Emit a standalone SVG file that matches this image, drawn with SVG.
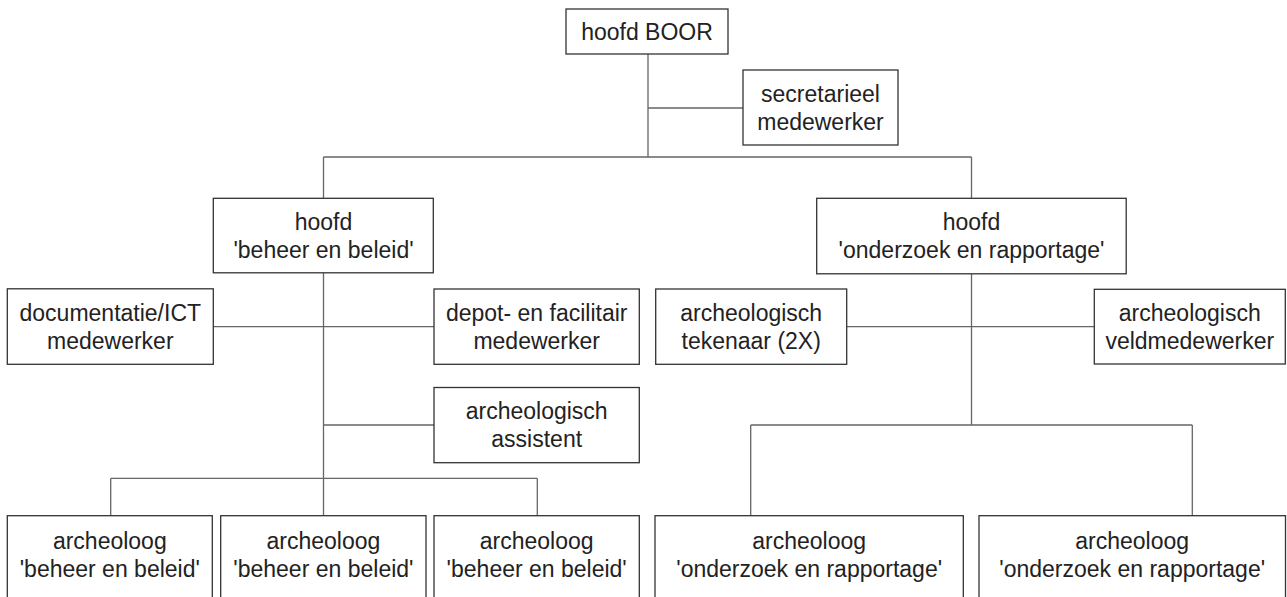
<svg xmlns="http://www.w3.org/2000/svg" width="1287" height="597" viewBox="0 0 1287 597">
<style>
.box{fill:#fff;stroke:#333;stroke-width:1.3}
.ln{stroke:#666;stroke-width:1.3;fill:none}
text{font-family:"Liberation Sans",Arial,sans-serif;font-size:23px;fill:#222;text-anchor:middle}
</style>
<rect width="1287" height="597" fill="#fff"/>
<g id="connectors">
<path class="ln" d="M648,54V157M648,108H743M323.5,157H971.5M323.5,157V198M971.5,157V198"/>
<path class="ln" d="M323.5,273V516M213,326.7H434M323.5,425H434M110.7,478.3H537.3M110.7,478.3V516M537.3,478.3V516"/>
<path class="ln" d="M971.5,274V425M846.7,326.7H1094.3M750.7,425H1192.3M750.7,425V516M1192.3,425V516"/>
</g>
<g id="hoofd-boor"><rect class="box" x="566" y="9" width="162" height="45"/><text x="647" y="39.5">hoofd BOOR</text></g>
<g id="secretarieel"><rect class="box" x="743" y="70" width="155" height="75"/><text x="820.5" y="101.7">secretarieel</text><text x="820.5" y="129.8">medewerker</text></g>
<g id="hoofd-beheer"><rect class="box" x="213.3" y="198.3" width="220" height="74.5"/><text x="323.5" y="229.5">hoofd</text><text x="323.5" y="257.7">'beheer en beleid'</text></g>
<g id="hoofd-onderzoek"><rect class="box" x="816.7" y="198.3" width="309.5" height="75.5"/><text x="971.5" y="230">hoofd</text><text x="971.5" y="258.2">'onderzoek en rapportage'</text></g>
<g id="documentatie"><rect class="box" x="7.3" y="288.8" width="206" height="75.5"/><text x="110.3" y="320.7">documentatie/ICT</text><text x="110.3" y="348.8">medewerker</text></g>
<g id="depot"><rect class="box" x="434" y="289" width="205.3" height="75.3"/><text x="536.7" y="320.7">depot- en facilitair</text><text x="536.7" y="348.8">medewerker</text></g>
<g id="assistent"><rect class="box" x="434" y="387.5" width="205.3" height="75.2"/><text x="536.7" y="419">archeologisch</text><text x="536.7" y="447.2">assistent</text></g>
<g id="tekenaar"><rect class="box" x="655.7" y="289" width="191" height="75.3"/><text x="751.2" y="320.7">archeologisch</text><text x="751.2" y="348.8">tekenaar (2X)</text></g>
<g id="veldmedewerker"><rect class="box" x="1094.3" y="289.3" width="191" height="74.7"/><text x="1189.8" y="320.7">archeologisch</text><text x="1189.8" y="348.8">veldmedewerker</text></g>
<g id="archeoloog-bb-1"><rect class="box" x="7.3" y="515.7" width="205" height="100"/><text x="109.8" y="549">archeoloog</text><text x="109.8" y="577">'beheer en beleid'</text></g>
<g id="archeoloog-bb-2"><rect class="box" x="220.7" y="515.7" width="205.3" height="100"/><text x="323.4" y="549">archeoloog</text><text x="323.4" y="577">'beheer en beleid'</text></g>
<g id="archeoloog-bb-3"><rect class="box" x="434" y="515.7" width="205.3" height="100"/><text x="536.7" y="549">archeoloog</text><text x="536.7" y="577">'beheer en beleid'</text></g>
<g id="archeoloog-or-1"><rect class="box" x="655" y="515.7" width="308.3" height="100"/><text x="809.2" y="549">archeoloog</text><text x="809.2" y="577">'onderzoek en rapportage'</text></g>
<g id="archeoloog-or-2"><rect class="box" x="979" y="515.7" width="306.5" height="100"/><text x="1132.2" y="549">archeoloog</text><text x="1132.2" y="577">'onderzoek en rapportage'</text></g>
</svg>
